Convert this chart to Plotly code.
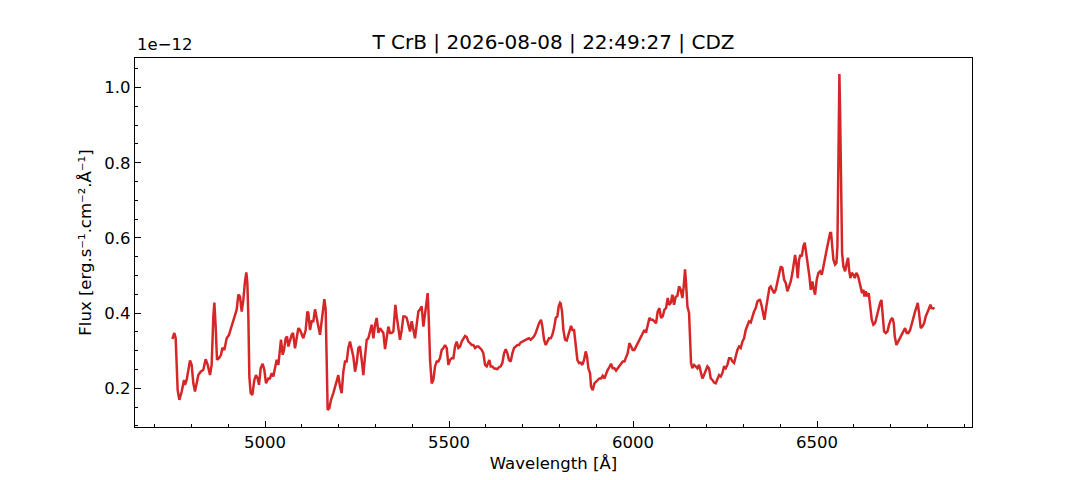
import plotly.graph_objects as go

# T CrB spectrum, flux in units of 1e-12 erg/s/cm2/A
wavelength = [
    4748.2, 4753.6, 4757.2, 4762.6, 4767.2, 4773.5, 4779.9, 4782.6, 4787.1, 4791.6,
    4796.2, 4800.7, 4805.2, 4809.7, 4815.2, 4818.8, 4825.1, 4832.4, 4838.7, 4844.2,
    4850.5, 4855.0, 4859.6, 4862.3, 4865.9, 4869.5, 4875.0, 4880.4, 4884.0, 4889.5,
    4895.8, 4902.1, 4907.6, 4913.9, 4918.4, 4923.0, 4927.5, 4932.0, 4936.6, 4941.1,
    4945.6, 4949.2, 4952.0, 4954.7, 4957.4, 4961.0, 4965.5, 4971.0, 4975.5, 4980.0,
    4983.7, 4988.2, 4993.6, 4998.1, 5002.7, 5009.0, 5013.5, 5018.1, 5022.6, 5027.1,
    5031.7, 5036.2, 5040.7, 5043.4, 5048.0, 5051.6, 5056.1, 5059.8, 5063.4, 5067.9,
    5072.4, 5076.1, 5081.5, 5086.0, 5090.5, 5095.1, 5099.6, 5104.1, 5110.5, 5115.0,
    5117.7, 5122.2, 5126.8, 5131.3, 5135.8, 5140.3, 5144.9, 5149.4, 5153.9, 5158.5,
    5161.2, 5164.8, 5167.5, 5170.2, 5174.8, 5179.3, 5185.6, 5190.2, 5194.7, 5199.2,
    5203.8, 5208.3, 5212.8, 5217.4, 5221.9, 5226.4, 5230.9, 5235.5, 5240.0,
    5244.6, 5249.1, 5253.6, 5258.1, 5262.7, 5267.2, 5271.7, 5276.3, 5280.8, 5285.3,
    5289.9, 5294.4, 5298.9, 5303.4, 5308.0, 5312.5, 5317.0, 5321.6, 5326.1, 5330.6,
    5335.1, 5339.7, 5344.2, 5348.7, 5351.4, 5354.2, 5357.8, 5362.3, 5366.8, 5371.4,
    5375.9, 5380.4, 5385.0, 5389.5, 5394.0, 5398.5, 5403.1, 5407.6, 5412.1, 5416.7,
    5421.2, 5425.7, 5430.3, 5434.8, 5439.3, 5442.0, 5444.7, 5448.4, 5452.9, 5457.4,
    5462.0, 5466.5, 5471.0, 5475.5, 5480.1, 5484.6, 5489.1, 5493.7, 5498.2, 5502.7,
    5507.2, 5511.8, 5516.3, 5520.8, 5525.4, 5529.9, 5534.4, 5539.0, 5543.5, 5548.0,
    5552.5, 5557.1, 5561.6, 5566.1, 5570.7, 5575.2, 5579.7, 5584.2, 5588.8, 5593.3,
    5597.8, 5602.4, 5606.9, 5609.6, 5613.2, 5617.8, 5622.3, 5626.8, 5631.3, 5635.9,
    5640.4, 5644.9, 5649.5, 5654.0, 5658.5, 5663.0, 5667.6, 5672.1, 5676.6, 5681.2,
    5685.7, 5690.2, 5694.8, 5699.3, 5703.8, 5708.3, 5712.9, 5717.4, 5721.9, 5726.5,
    5731.0, 5735.5, 5740.0, 5744.6, 5750.0, 5753.6, 5758.2, 5762.7, 5767.2, 5771.8,
    5776.3, 5780.8, 5785.3, 5789.9, 5794.4, 5798.0, 5801.6,
    5803.5, 5807.1, 5810.7, 5815.2, 5819.8, 5824.3, 5828.8, 5831.5, 5835.2, 5839.7,
    5844.2, 5848.8, 5853.3, 5857.8, 5862.3, 5866.9, 5871.4, 5875.0, 5878.6, 5883.2,
    5885.9, 5890.4, 5894.9, 5899.5, 5904.0, 5908.5, 5913.1, 5917.6, 5922.1, 5926.6,
    5931.2, 5935.7, 5940.2, 5944.8, 5949.3, 5953.8, 5958.4, 5962.9, 5967.4, 5971.9,
    5976.5, 5981.0, 5985.5, 5990.1, 5994.6, 5999.1, 6003.6, 6008.2, 6012.7, 6017.2,
    6021.8, 6026.3, 6030.8, 6035.3, 6039.9, 6044.4, 6048.9, 6053.5, 6058.0, 6062.5,
    6067.0, 6071.6, 6076.1, 6080.6, 6085.2, 6089.7, 6094.2, 6097.8, 6102.4, 6106.9,
    6111.4, 6116.0, 6120.5, 6125.0, 6129.5, 6134.1, 6137.7, 6141.3, 6144.0, 6147.7,
    6152.2, 6154.9, 6157.6, 6161.2, 6165.8, 6170.3, 6174.8, 6179.4, 6183.9, 6188.4,
    6192.9, 6197.5, 6202.0, 6206.5, 6211.1, 6215.6, 6220.1, 6224.7, 6229.2, 6233.7,
    6238.2, 6242.8, 6247.3, 6251.8, 6256.4, 6260.9, 6265.4, 6270.0, 6274.5, 6279.0,
    6283.5, 6288.1, 6292.6, 6297.1, 6301.7, 6306.2, 6310.7, 6315.2, 6319.8, 6324.3,
    6328.8, 6333.4, 6337.9, 6342.4,
    6345.1, 6349.7, 6354.2, 6356.9, 6361.5, 6366.0, 6370.5, 6374.1, 6378.7, 6383.2,
    6387.7, 6392.3, 6396.8, 6401.3, 6405.8, 6410.4, 6414.9, 6419.4, 6424.0, 6428.5,
    6433.0, 6437.5, 6440.3, 6444.8, 6447.5, 6451.1, 6454.7, 6458.4, 6462.9, 6466.5,
    6470.1, 6474.7, 6479.2, 6482.8, 6487.4, 6491.0, 6494.6, 6499.1, 6503.7, 6508.2,
    6512.7, 6517.3, 6521.8, 6526.3, 6530.8, 6535.4, 6538.1, 6540.8, 6544.4, 6549.0,
    6552.6, 6555.3, 6557.1, 6558.9, 6560.7, 6562.5, 6565.3, 6568.0, 6571.6, 6576.1,
    6580.7, 6584.3, 6587.0, 6590.6, 6594.2, 6598.8, 6602.4, 6606.9, 6611.5, 6615.1,
    6618.7, 6622.3, 6625.9, 6628.7, 6632.3, 6635.9, 6640.4, 6644.1, 6648.6, 6653.1,
    6657.6, 6662.2, 6666.7, 6671.2, 6674.9, 6678.5, 6682.1, 6686.6, 6691.2, 6695.7,
    6700.2, 6704.8, 6708.4, 6711.1, 6715.6, 6720.2, 6724.7, 6729.2, 6733.7, 6739.2,
    6743.7, 6748.2, 6752.8, 6757.3, 6761.8, 6766.3, 6770.0, 6773.6, 6777.2, 6781.7,
    6786.3, 6790.8, 6795.3, 6799.9, 6804.4, 6808.0, 6811.6, 6816.2, 6818.9,
]

flux_1e12 = [
    0.331, 0.347, 0.333, 0.195, 0.169, 0.191, 0.222, 0.209, 0.222, 0.249,
    0.274, 0.262, 0.213, 0.191, 0.213, 0.235, 0.244, 0.249, 0.277, 0.262,
    0.235, 0.262, 0.391, 0.428, 0.364, 0.276, 0.280, 0.289, 0.307, 0.302,
    0.333, 0.342, 0.360, 0.382, 0.391, 0.409, 0.449, 0.444, 0.404, 0.435,
    0.484, 0.508, 0.480, 0.391, 0.231, 0.187, 0.182, 0.222, 0.235, 0.226,
    0.209, 0.253, 0.265, 0.249, 0.213, 0.226, 0.226, 0.240, 0.231, 0.258,
    0.276, 0.262, 0.302, 0.329, 0.289, 0.302, 0.333, 0.338, 0.311, 0.329,
    0.342, 0.347, 0.306, 0.333, 0.360, 0.355, 0.342, 0.333, 0.355, 0.404,
    0.400, 0.355, 0.378, 0.378, 0.410, 0.382, 0.364, 0.342, 0.382, 0.422,
    0.437, 0.409, 0.302, 0.142, 0.147, 0.169, 0.187, 0.204, 0.213, 0.235,
    0.204, 0.187, 0.244, 0.271, 0.271, 0.307, 0.324, 0.302, 0.284,
    0.244, 0.267, 0.307, 0.311, 0.275, 0.235, 0.284, 0.329, 0.333, 0.355,
    0.369, 0.333, 0.369, 0.387, 0.347, 0.360, 0.355, 0.347, 0.304, 0.342,
    0.364, 0.347, 0.347, 0.351, 0.395, 0.422, 0.391, 0.355, 0.329, 0.355,
    0.391, 0.391, 0.387, 0.369, 0.351, 0.378, 0.355, 0.333, 0.369, 0.404,
    0.410, 0.418, 0.364, 0.400, 0.444, 0.453, 0.391, 0.275, 0.213, 0.222,
    0.258, 0.271, 0.271, 0.280, 0.302, 0.307, 0.315, 0.307, 0.262, 0.275,
    0.280, 0.280, 0.311, 0.324, 0.307, 0.311, 0.324, 0.333, 0.339, 0.336,
    0.324, 0.320, 0.315, 0.315, 0.307, 0.311, 0.311, 0.307, 0.302, 0.293,
    0.262, 0.258, 0.267, 0.275, 0.258, 0.258, 0.253, 0.253, 0.251, 0.256,
    0.258, 0.267, 0.293, 0.304, 0.293, 0.275, 0.271, 0.293, 0.307, 0.311,
    0.315, 0.315, 0.322, 0.324, 0.327, 0.329, 0.331, 0.333, 0.329, 0.333,
    0.338, 0.347, 0.360, 0.373, 0.382, 0.364, 0.329, 0.315, 0.324, 0.333,
    0.333, 0.342, 0.360, 0.387, 0.391, 0.418, 0.427,
    0.425, 0.404, 0.355, 0.329, 0.327, 0.342, 0.360, 0.366, 0.355, 0.355,
    0.315, 0.275, 0.267, 0.268, 0.262, 0.275, 0.298, 0.284, 0.253, 0.240,
    0.204, 0.195, 0.213, 0.218, 0.222, 0.226, 0.226, 0.233, 0.226, 0.238,
    0.249, 0.256, 0.265, 0.253, 0.253, 0.247, 0.253, 0.259, 0.268, 0.271,
    0.271, 0.280, 0.293, 0.320, 0.311, 0.302, 0.302, 0.311, 0.320, 0.329,
    0.338, 0.347, 0.355, 0.348, 0.364, 0.387, 0.382, 0.382, 0.378, 0.373,
    0.404, 0.413, 0.387, 0.391, 0.409, 0.413, 0.440, 0.422, 0.427, 0.449,
    0.422, 0.444, 0.446, 0.471, 0.462, 0.440, 0.471, 0.516, 0.480, 0.418,
    0.400, 0.347, 0.267, 0.253, 0.262, 0.258, 0.253, 0.262, 0.240, 0.226,
    0.235, 0.249, 0.258, 0.253, 0.226, 0.222, 0.215, 0.213, 0.226, 0.235,
    0.231, 0.240, 0.258, 0.253, 0.262, 0.280, 0.280, 0.271, 0.267, 0.284,
    0.302, 0.311, 0.307, 0.324, 0.333, 0.355, 0.369, 0.378, 0.375, 0.391,
    0.404, 0.413, 0.431, 0.435,
    0.435, 0.418, 0.391, 0.382, 0.413, 0.444, 0.467, 0.471, 0.462, 0.453,
    0.462, 0.484, 0.502, 0.524, 0.520, 0.489, 0.480, 0.458, 0.471, 0.484,
    0.507, 0.533, 0.555, 0.524, 0.493, 0.542, 0.555, 0.551, 0.578, 0.587,
    0.560, 0.538, 0.498, 0.462, 0.484, 0.462, 0.449, 0.489, 0.507, 0.511,
    0.502, 0.524, 0.551, 0.569, 0.591, 0.613, 0.613, 0.582, 0.542, 0.529,
    0.533, 0.578, 0.720, 0.898, 1.036, 0.942, 0.720, 0.560, 0.524, 0.511,
    0.533, 0.547, 0.515, 0.493, 0.507, 0.502, 0.493, 0.507, 0.498, 0.480,
    0.471, 0.453, 0.462, 0.444, 0.458, 0.444, 0.453, 0.427, 0.382, 0.369,
    0.373, 0.391, 0.413, 0.427, 0.435, 0.400, 0.351, 0.347, 0.351, 0.369,
    0.382, 0.387, 0.373, 0.338, 0.315, 0.324, 0.333, 0.342, 0.351, 0.360,
    0.347, 0.347, 0.355, 0.369, 0.387, 0.404, 0.418, 0.427, 0.400, 0.360,
    0.364, 0.373, 0.391, 0.400, 0.413, 0.422, 0.413, 0.413, 0.411,
]

x_ticks = [5000, 5500, 6000, 6500]
y_ticks = [0.2, 0.4, 0.6, 0.8, 1.0]
y_ticklabels = ['0.2', '0.4', '0.6', '0.8', '1.0']

font_main = dict(family='DejaVu Sans', size=16.5, color='black')

fig = go.Figure()
fig.add_trace(go.Scatter(x=wavelength, y=flux_1e12, mode='lines',
                         line=dict(color='#d62728', width=2.5), showlegend=False))

axis_common = dict(showline=True, linecolor='black', linewidth=1.3, mirror=True,
                   ticks='inside', ticklen=6, tickwidth=1.3, tickcolor='black',
                   showgrid=False, zeroline=False, tickfont=font_main)

fig.update_xaxes(range=[4646.7, 6921], tickvals=x_ticks,
                 minor=dict(dtick=100, tick0=0, ticks='inside', ticklen=3.3,
                            tickwidth=1, tickcolor='black'),
                 title=dict(text='Wavelength [Å]', standoff=6, font=font_main),
                 **axis_common)
fig.update_yaxes(range=[0.0968, 1.0787], tickvals=y_ticks, ticktext=y_ticklabels,
                 minor=dict(dtick=0.05, tick0=0, ticks='inside', ticklen=3.3,
                            tickwidth=1, tickcolor='black'),
                 title=dict(text='Flux [erg.s⁻¹.cm⁻².Å⁻¹]', standoff=8, font=font_main),
                 **axis_common)

fig.add_annotation(text='1e−12', xref='paper', yref='paper', x=0, y=1,
                   xanchor='left', yanchor='bottom', yshift=2, showarrow=False,
                   font=font_main)

# the page body adds an 8px offset, so margins are shifted to compensate
fig.update_layout(
    width=1080, height=480,
    margin=dict(l=127, r=116, t=50, b=61),
    paper_bgcolor='white', plot_bgcolor='white',
    title=dict(text='T CrB | 2026-08-08 | 22:49:27 | CDZ', x=0.5, xanchor='center',
               xref='paper', y=0.929, yanchor='middle',
               font=dict(family='DejaVu Sans', size=20, color='black')),
)

fig.write_html('out.html')
